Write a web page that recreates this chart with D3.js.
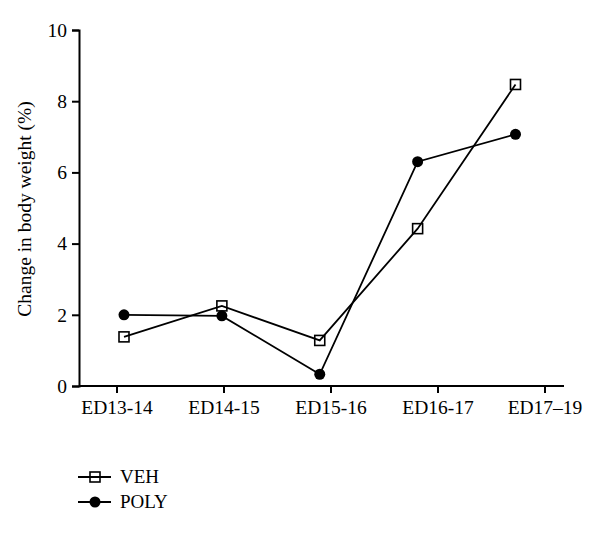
<!DOCTYPE html>
<html>
<head>
  <script src="https://d3js.org/d3.v7.min.js"></script>
  <style>
    body { margin: 0; background: #fff; }
    svg text { font-family: "Liberation Serif", "Times New Roman", serif; fill: #000; }
  </style>
</head>
<body>
  <svg width="600" height="533"></svg>

  <script>
    // Data
    const periods = ["ED13-14", "ED14-15", "ED15-16", "ED16-17", "ED17\u201319"];
    const vehValues = [1.38, 2.25, 1.28, 4.42, 8.47];
    const polyValues = [2.0, 1.97, 0.33, 6.30, 7.07];
    const yTicks = [0, 2, 4, 6, 8, 10];

    const margin = { top: 30, left: 79 };
    const width = 485;   // axis runs to x=564
    const height = 356;  // zero line at y=386

    const svg = d3.select("svg")
      .append("g")
      .attr("transform", `translate(${margin.left},${margin.top})`);

    // y scale
    const y = d3.scaleLinear().domain([0, 10]).range([height, 0]);

    // category ticks on the axis
    const xTick = d3.scalePoint().domain(periods).range([38, 466]);

    // points sit on a slightly tighter spacing than the ticks
    const xPoint = d3.scalePoint().domain(periods).range([45, 436.5]);

    // x axis
    const xAxis = svg.append("g")
      .attr("transform", `translate(0,${height})`);
    xAxis.append("line")
      .attr("x1", 0).attr("x2", width)
      .attr("stroke", "#000").attr("stroke-width", 2);
    xAxis.selectAll(".xt").data(periods).join("line")
      .attr("class", "xt")
      .attr("x1", d => xTick(d)).attr("x2", d => xTick(d))
      .attr("y1", 0).attr("y2", 7)
      .attr("stroke", "#000").attr("stroke-width", 2);
    xAxis.selectAll(".xl").data(periods).join("text")
      .attr("class", "xl")
      .attr("x", d => xTick(d))
      .attr("y", 28)
      .attr("text-anchor", "middle")
      .attr("font-size", 19.5)
      .text(d => d);

    // y axis
    svg.append("g")
      .call(d3.axisLeft(y).tickValues(yTicks).tickSize(7).tickPadding(5))
      .call(g => g.select(".domain").attr("stroke-width", 2))
      .call(g => g.selectAll(".tick line").attr("stroke-width", 2))
      .call(g => g.selectAll(".tick text").attr("font-size", 19.5));

    // y axis title
    svg.append("text")
      .attr("transform", `translate(${-48},${179}) rotate(-90)`)
      .attr("text-anchor", "middle")
      .attr("font-size", 19.5)
      .text("Change in body weight (%)");

    const line = d3.line()
      .x((d, i) => xPoint(periods[i]))
      .y(d => y(d));

    // series lines
    [vehValues, polyValues].forEach(vals => {
      svg.append("path")
        .datum(vals)
        .attr("fill", "none")
        .attr("stroke", "#000")
        .attr("stroke-width", 1.8)
        .attr("d", line);
    });

    // VEH markers: open squares
    svg.selectAll(".veh").data(vehValues).join("rect")
      .attr("class", "veh")
      .attr("x", (d, i) => xPoint(periods[i]) - 5)
      .attr("y", d => y(d) - 5)
      .attr("width", 10).attr("height", 10)
      .attr("fill", "none")
      .attr("stroke", "#000")
      .attr("stroke-width", 1.6);

    // POLY markers: filled circles
    svg.selectAll(".poly").data(polyValues).join("circle")
      .attr("class", "poly")
      .attr("cx", (d, i) => xPoint(periods[i]))
      .attr("cy", d => y(d))
      .attr("r", 5.5)
      .attr("fill", "#000");

    // legend
    const legend = d3.select("svg").append("g")
      .attr("transform", "translate(78,477)");
    const legendItems = ["VEH", "POLY"];
    legendItems.forEach((name, i) => {
      const g = legend.append("g").attr("transform", `translate(0,${i * 25})`);
      g.append("line")
        .attr("x1", 0).attr("x2", 33)
        .attr("stroke", "#000").attr("stroke-width", 1.8);
      if (name === "VEH") {
        g.append("rect")
          .attr("x", 12).attr("y", -5).attr("width", 10).attr("height", 10)
          .attr("fill", "none").attr("stroke", "#000").attr("stroke-width", 1.6);
      } else {
        g.append("circle").attr("cx", 17).attr("r", 5.5).attr("fill", "#000");
      }
      g.append("text")
        .attr("x", 42).attr("y", 6)
        .attr("font-size", 19)
        .text(name);
    });
  </script>
</body>
</html>
